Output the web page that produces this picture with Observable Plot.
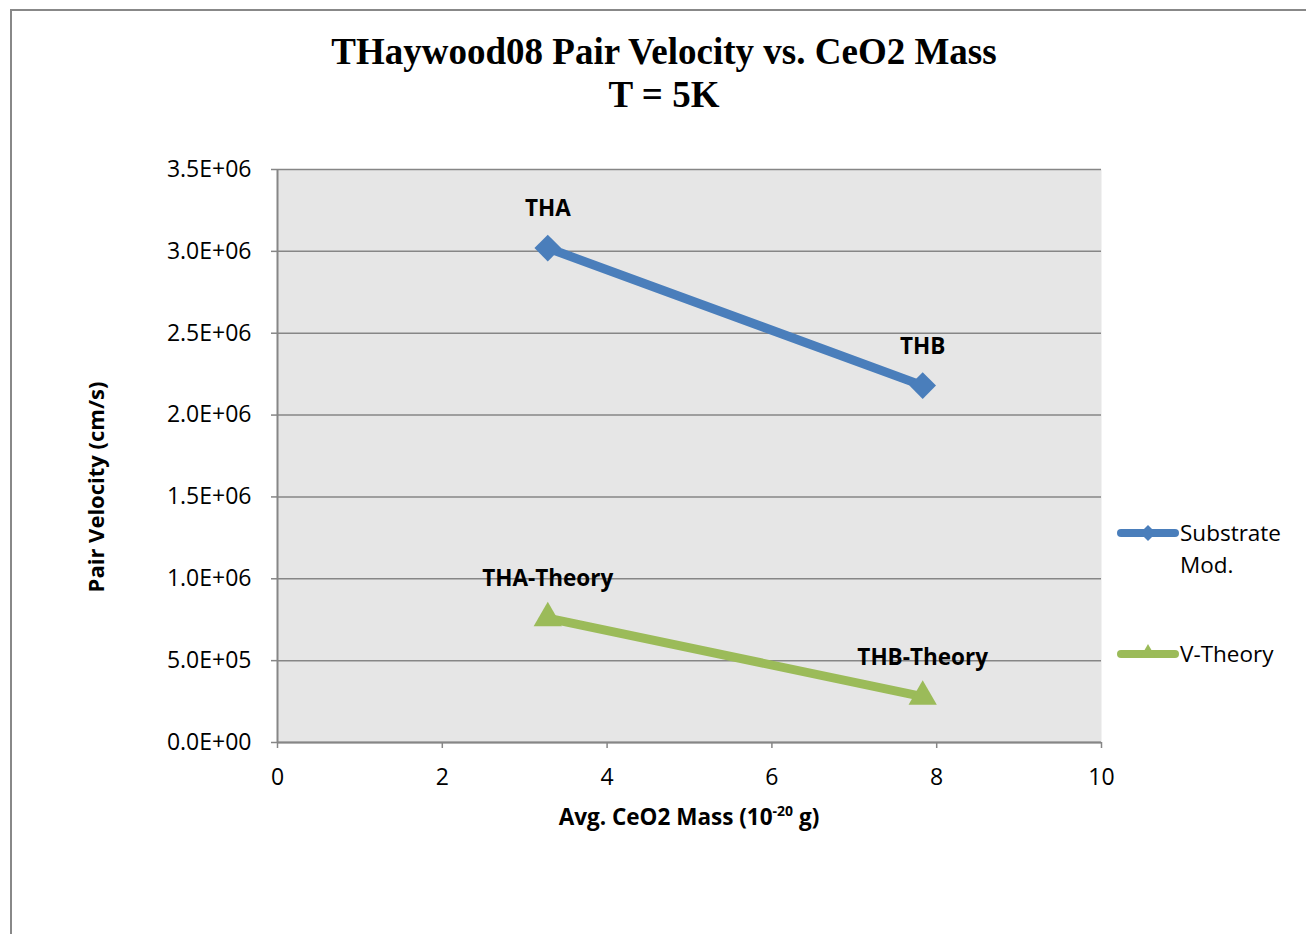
<!DOCTYPE html>
<html>
<head>
<meta charset="utf-8">
<script src="https://cdn.jsdelivr.net/npm/d3@7"></script>
<script src="https://cdn.jsdelivr.net/npm/@observablehq/plot@0.6"></script>
<style>
  html, body { margin: 0; padding: 0; background: #fff; }
  #wrap { position: relative; width: 1306px; height: 934px; overflow: hidden; font-family: "Open Sans", sans-serif; }
  #border { position: absolute; left: 10px; top: 9px; width: 1400px; height: 1000px; border-left: 2px solid #888; border-top: 2px solid #888; }
  #chart { position: absolute; left: 0; top: 0; }
  #title { position: absolute; left: 0; top: 30px; width: 1328px; text-align: center; font-family: "Liberation Serif", serif; font-weight: bold; font-size: 37px; line-height: 43px; color: #000; }
  #xtitle { position: absolute; left: 0; top: 804px; width: 1378px; text-align: center; font-weight: bold; font-size: 22.5px; line-height: 26px; color: #000; }
  #xtitle sup { font-size: 14px; vertical-align: 0; position: relative; top: -9px; }
  #ytitle { position: absolute; left: -55px; top: 474px; width: 300px; height: 26px; text-align: center; font-weight: bold; font-size: 22px; line-height: 26px; transform: rotate(-90deg); color: #000; }
  .leg { position: absolute; font-size: 22.5px; line-height: 32px; color: #000; }
  .legsym { position: absolute; }
</style>
</head>
<body>
<div id="wrap">
  <div id="border"></div>
  <div id="chart"></div>
  <div id="title">THaywood08 Pair Velocity vs. CeO2 Mass<br>T = 5K</div>
  <div id="xtitle">Avg. CeO2 Mass (10<sup>-20</sup> g)</div>
  <div id="ytitle">Pair Velocity (cm/s)</div>
  <div id="legend"></div>
</div>
<script>
// ---- data ----
const seriesNames = ["Substrate Mod.", "V-Theory"];
const massX = [3.28, 7.83];
const substrateV = [3.02e6, 2.18e6];
const theoryV = [0.76e6, 0.28e6];
const substrateLabels = ["THA", "THB"];
const theoryLabels = ["THA-Theory", "THB-Theory"];
const xTicks = [0, 2, 4, 6, 8, 10];
const yTicks = [0, 5e5, 1e6, 1.5e6, 2e6, 2.5e6, 3e6, 3.5e6];
const seriesColors = ["#4a7ebb", "#9bbb59"];

const substrate = massX.map((m, i) => ({mass: m, v: substrateV[i], label: substrateLabels[i]}));
const theory = massX.map((m, i) => ({mass: m, v: theoryV[i], label: theoryLabels[i]}));

const fmt = d => {
  const s = d.toExponential(1).toUpperCase();
  return s.replace(/E([+-])(\d)$/, "E$10$2");
};
const grid = "#868686";

const chart = Plot.plot({
  width: 1306,
  height: 934,
  marginTop: 169,
  marginBottom: 192,
  marginLeft: 277,
  marginRight: 205,
  style: {fontFamily: "Open Sans", fontSize: "20px", color: "#000", background: "transparent", overflow: "visible"},
  x: {domain: [0, 10]},
  y: {domain: [0, 3.5e6]},
  marks: [
    Plot.frame({fill: "#e6e6e6", stroke: null}),
    Plot.gridY(yTicks, {stroke: grid, strokeOpacity: 1, strokeWidth: 1.5}),
    Plot.axisY(yTicks, {tickFormat: fmt, tickSize: 6, tickPadding: 20, label: null, stroke: grid, strokeWidth: 1.5, fill: "#000", fontSize: 23}),
    Plot.axisX(xTicks, {tickSize: 6, tickPadding: 20, label: null, stroke: grid, strokeWidth: 1.5, fill: "#000", fontSize: 23}),
    Plot.ruleX([0], {stroke: grid, strokeWidth: 2}),
    Plot.ruleY([0], {stroke: grid, strokeWidth: 2}),
    Plot.line(substrate, {x: "mass", y: "v", stroke: seriesColors[0], strokeWidth: 9}),
    Plot.line(theory, {x: "mass", y: "v", stroke: seriesColors[1], strokeWidth: 9}),
    Plot.dot(substrate, {x: "mass", y: "v", symbol: "diamond2", r: 12, fill: seriesColors[0], stroke: null}),
    Plot.dot(theory, {x: "mass", y: "v", symbol: "triangle", r: 10.5, fill: seriesColors[1], stroke: null}),
    Plot.text(substrate, {x: "mass", y: "v", text: "label", dy: -39, fontWeight: "bold", fontSize: 22.5, fill: "#000"}),
    Plot.text(theory, {x: "mass", y: "v", text: "label", dy: -39, fontWeight: "bold", fontSize: 22.5, fill: "#000"})
  ]
});
document.getElementById("chart").appendChild(chart);

// ---- legend ----
const legend = document.getElementById("legend");
const legItems = [
  {name: seriesNames[0], color: seriesColors[0], y: 533, sym: "diamond"},
  {name: seriesNames[1], color: seriesColors[1], y: 654, sym: "triangle"}
];
legItems.forEach(it => {
  const ns = "http://www.w3.org/2000/svg";
  const svg = document.createElementNS(ns, "svg");
  svg.setAttribute("width", 66); svg.setAttribute("height", 24);
  svg.setAttribute("class", "legsym");
  svg.style.left = "1115px"; svg.style.top = (it.y - 12) + "px";
  const ln = document.createElementNS(ns, "line");
  ln.setAttribute("x1", 6); ln.setAttribute("x2", 60); ln.setAttribute("y1", 12); ln.setAttribute("y2", 12);
  ln.setAttribute("stroke", it.color); ln.setAttribute("stroke-width", 8); ln.setAttribute("stroke-linecap", "round");
  svg.appendChild(ln);
  const p = document.createElementNS(ns, "polygon");
  p.setAttribute("points", it.sym === "diamond" ? "33,4 41,12 33,20 25,12" : "33,2 41,16 25,16");
  p.setAttribute("fill", it.color);
  svg.appendChild(p);
  legend.appendChild(svg);
  const lines = it.name === "Substrate Mod." ? ["Substrate", "Mod."] : [it.name];
  const t = document.createElement("div");
  t.className = "leg";
  t.style.left = "1180px"; t.style.top = (it.y - 16) + "px";
  t.innerHTML = lines.join("<br>");
  legend.appendChild(t);
});
</script>
</body>
</html>
